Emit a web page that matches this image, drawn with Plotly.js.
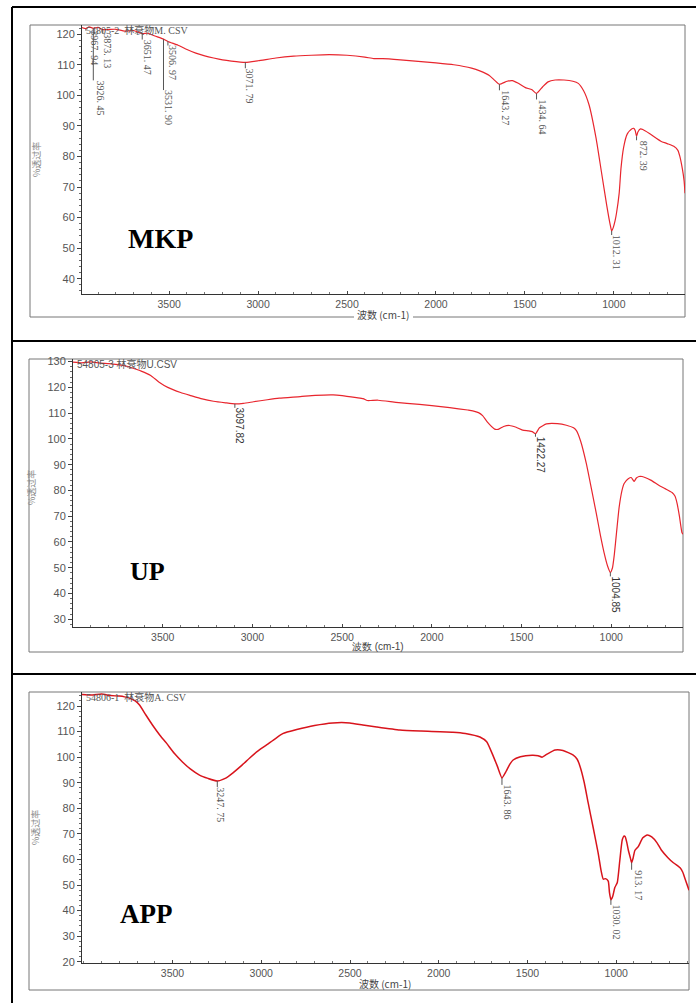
<!DOCTYPE html>
<html>
<head>
<meta charset="utf-8">
<script src="https://cdn.plot.ly/plotly-3.0.1.min.js"></script>
<style>
  html, body { margin: 0; padding: 0; background: #fff; }
  #chart { width: 696px; height: 1003px; }
</style>
</head>
<body>
<div id="chart"></div>
<script>
// ---- FTIR spectra: wavenumber (cm-1) and % transmittance ----
const mkpWave = [4000, 3967.94, 3950, 3926.45, 3900, 3873.13, 3800, 3750, 3700, 3651.47, 3620, 3580, 3531.90, 3506.97, 3450, 3400, 3350, 3300, 3250, 3200, 3150, 3071.79, 3000, 2900, 2800, 2700, 2600, 2500, 2400, 2350, 2300, 2200, 2100, 2000, 1900, 1800, 1750, 1700, 1670, 1643.27, 1600, 1570, 1540, 1500, 1460, 1434.64, 1400, 1370, 1330, 1280, 1230, 1200, 1170, 1140, 1100, 1070, 1040, 1020, 1012.31, 1003, 993, 985, 970, 960, 945, 925, 900, 888, 880, 872.39, 865, 850, 837, 800, 736, 700, 663, 640, 629, 615, 605, 600];
const mkpT = [122.3, 121.8, 122.4, 121.9, 122.2, 121.5, 121.6, 121.0, 121.2, 120.2, 120.3, 119.4, 118.4, 117.6, 116.4, 115.0, 113.8, 112.9, 112.2, 111.6, 111.2, 110.8, 111.3, 112.2, 112.8, 113.1, 113.3, 113.1, 112.5, 112.0, 112.0, 111.6, 111.1, 110.6, 110.0, 108.9, 107.9, 106.5, 104.9, 103.6, 104.6, 104.8, 104.0, 102.6, 101.8, 100.6, 102.8, 104.4, 105.0, 105.0, 104.6, 103.9, 101.5, 97.0, 86.0, 75.0, 64.0, 57.5, 55.6, 56.8, 59.0, 61.5, 68.0, 76.0, 83.0, 87.3, 89.0, 89.2, 88.5, 86.6, 88.0, 89.0, 88.8, 87.5, 85.0, 84.2, 83.3, 82.0, 80.0, 76.0, 72.0, 68.0];

const upWave = [4000, 3950, 3900, 3850, 3800, 3750, 3700, 3678, 3620, 3567, 3520, 3472, 3400, 3344, 3280, 3217, 3150, 3097.82, 3050, 2994, 2917, 2850, 2733, 2650, 2550, 2500, 2420, 2383, 2360, 2340, 2300, 2200, 2139, 2000, 1900, 1800, 1772, 1740, 1717, 1690, 1650, 1630, 1600, 1567, 1530, 1494, 1460, 1440, 1422.27, 1400, 1361, 1300, 1250, 1210, 1194, 1170, 1139, 1110, 1083, 1060, 1039, 1020, 1004.85, 993, 983, 970, 956, 940, 928, 905, 889, 880, 872, 860, 845, 828, 780, 733, 700, 661, 645, 633, 620, 606, 600];
const upT = [129.8, 129.5, 129.9, 129.4, 129.2, 128.8, 128.2, 127.7, 126.3, 124.6, 122.0, 120.0, 118.0, 116.8, 115.5, 114.6, 114.0, 113.6, 113.8, 114.4, 115.2, 115.8, 116.4, 116.9, 117.1, 116.8, 116.0, 115.6, 114.9, 114.9, 115.0, 114.2, 113.8, 112.9, 112.1, 111.2, 110.9, 110.2, 109.0, 106.5, 103.8, 103.7, 104.8, 105.2, 104.5, 103.4, 103.1, 102.8, 102.0, 104.3, 105.8, 105.9, 105.3, 104.3, 103.2, 99.0, 90.5, 80.5, 71.0, 62.5, 55.6, 50.6, 48.2, 50.0, 55.0, 64.0, 73.4, 80.0, 82.7, 84.5, 85.0, 84.2, 83.5, 84.8, 85.4, 85.4, 84.0, 81.9, 80.7, 79.2, 77.8, 75.0, 70.0, 63.7, 63.0];

const appWave = [4010, 3950, 3900, 3850, 3800, 3770, 3743, 3710, 3686, 3650, 3613, 3570, 3534, 3490, 3444, 3400, 3348, 3300, 3247.75, 3200, 3161, 3110, 3065, 3020, 2970, 2920, 2879, 2800, 2700, 2597, 2501, 2428, 2350, 2219, 2100, 1920, 1850, 1768, 1730, 1700, 1670, 1643.86, 1620, 1600, 1581, 1540, 1474, 1440, 1418, 1390, 1344, 1300, 1242, 1220, 1203, 1180, 1158, 1130, 1102, 1085, 1073, 1060, 1045, 1038, 1030.02, 1020, 1008, 994, 980, 966, 955, 949, 940, 932, 920, 913.17, 905, 895, 876, 850, 825, 800, 770, 746, 710, 678, 650, 639, 625, 610, 590];
const appT = [124.5, 124.3, 124.7, 124.1, 123.9, 123.6, 123.1, 122.0, 120.4, 116.5, 112.6, 108.5, 105.5, 101.5, 98.1, 95.4, 93.0, 91.7, 90.7, 91.8, 93.8, 96.8, 99.7, 102.4, 104.8, 107.3, 109.2, 110.8, 112.4, 113.4, 113.4, 112.6, 111.8, 110.6, 110.2, 109.8, 109.3, 107.9, 106.0, 101.6, 96.5, 91.9, 94.5, 97.2, 98.9, 100.2, 100.8, 100.6, 100.0, 101.2, 102.8, 102.6, 100.8, 99.2, 96.2, 90.0, 82.1, 72.5, 62.6, 55.5, 52.3, 52.5, 51.5, 47.0, 44.2, 45.5, 49.0, 51.0, 59.5, 67.7, 69.2, 68.8, 66.5, 63.7, 60.5, 58.7, 60.5, 63.5, 65.0, 68.5, 69.6, 68.8, 66.5, 63.7, 60.8, 58.7, 57.3, 56.7, 55.0, 52.0, 48.0];

// Peak positions marked on each spectrum (cm-1)
const mkpPeaks = [3967.94, 3926.45, 3873.13, 3651.47, 3531.90, 3506.97, 3071.79, 1643.27, 1434.64, 1012.31, 872.39];
const upPeaks = [3097.82, 1422.27, 1004.85];
const appPeaks = [3247.75, 1643.86, 1030.02, 913.17];

// Axis ticks
const xTicks = [3500, 3000, 2500, 2000, 1500, 1000];
const yTicksMKP = [40, 50, 60, 70, 80, 90, 100, 110, 120];
const yTicksUP = [30, 40, 50, 60, 70, 80, 90, 100, 110, 120, 130];
const yTicksAPP = [20, 30, 40, 50, 60, 70, 80, 90, 100, 110, 120];

// Text
const sampleNames = ["MKP", "UP", "APP"];
const fileNames = ["54805-2  林衰物M. CSV", "54805-3 林衰物U.CSV", "54806-1  林衰物A. CSV"];
const xTitle = ["波数 (cm-1)", "波数 (cm-1)", "波数 (cm-1)"];
const yTitle = "%透过率";

// ---- page geometry (pixels) ----
const W = 696, H = 1003;
const fx = x => x / W;
const fy = y => 1 - y / H;

const panels = [
  { plot: [82, 25, 685, 294], frame: [30, 25, 685, 317], frameGap: [354, 413], xr: [3990, 600], yr: [35, 123], yTicks: yTicksMKP,
    serif: true, lineColor: "#e8262e", lineWidth: 1.2,
    name: [160, 238, 28], file: [84, 30], xt: [383, 314], yt: [37, 160],
    lab: { dx: [9, 7, 5, 6, 5, 5, 4, 6, 5, 5, 7], gap: [2, 52, 4, 6, 51, 4, 6, 6, 6, 4, 4] } },
  { plot: [73, 359, 683, 627], frame: [29, 359, 683, 652], frameGap: null, xr: [4000, 600], yr: [27, 131], yTicks: yTicksUP,
    serif: false, lineColor: "#e8262e", lineWidth: 1.2,
    name: [147, 571, 26], file: [75, 364], xt: [378, 646], yt: [32, 488],
    lab: { dx: [5, 5, 5], gap: [4, 3, 4] } },
  { plot: [82, 692, 689, 963], frame: [29, 692, 689, 990], frameGap: null, xr: [4010, 590], yr: [19.5, 125.5], yTicks: yTicksAPP,
    serif: true, lineColor: "#d8141c", lineWidth: 1.5,
    name: [146, 914, 27], file: [84, 697], xt: [385, 983], yt: [35, 828],
    lab: { dx: [3, 6, 6, 7], gap: [6, 7, 5, 7] } }
];

const spectra = [[mkpWave, mkpT], [upWave, upT], [appWave, appT]];
const peaks = [mkpPeaks, upPeaks, appPeaks];

// linear interpolation on a descending wavenumber grid
function interp(xs, ys, v) {
  for (let i = 0; i < xs.length - 1; i++) {
    const a = xs[i], b = xs[i + 1];
    if ((v <= a && v >= b) || (v >= a && v <= b)) {
      const t = (v - a) / (b - a);
      return ys[i] + t * (ys[i + 1] - ys[i]);
    }
  }
  return ys[ys.length - 1];
}

const serifFont = "'Liberation Serif', 'Times New Roman', serif";
const sansFont = "'Liberation Sans', Arial, sans-serif";
const cjkFont = "'Noto Sans CJK SC', sans-serif";

const traces = [];
const annotations = [];
const shapes = [];
const layout = {
  width: W, height: H,
  margin: { l: 0, r: 0, t: 0, b: 0 },
  paper_bgcolor: "#ffffff",
  plot_bgcolor: "#ffffff",
  showlegend: false,
  font: { family: sansFont, size: 11, color: "#555" }
};

function paperLine(xa, ya, xb, yb, line) {
  shapes.push({ type: "line", xref: "paper", yref: "paper",
    x0: fx(xa), y0: fy(ya), x1: fx(xb), y1: fy(yb), line: line, layer: "below" });
}

panels.forEach((p, i) => {
  const n = i === 0 ? "" : String(i + 1);
  const xa = "xaxis" + n, ya = "yaxis" + n;
  const xid = "x" + n, yid = "y" + n;
  const [x0, y0, x1, y1] = p.plot;

  traces.push({
    type: "scatter", mode: "lines",
    x: spectra[i][0], y: spectra[i][1],
    xaxis: xid, yaxis: yid,
    line: { color: p.lineColor, width: p.lineWidth, shape: "spline", smoothing: 0.5 },
    hoverinfo: "x+y"
  });

  const tickFont = { family: sansFont, size: 11, color: "#555" };
  layout[xa] = {
    domain: [fx(x0), fx(x1)], anchor: yid,
    range: p.xr, autorange: false,
    showgrid: false, zeroline: false,
    showline: true, linecolor: "#333", linewidth: 1,
    ticks: "inside", ticklen: 3, tickcolor: "#444", tickwidth: 1,
    tickmode: "array", tickvals: xTicks,
    tickfont: { family: sansFont, size: 10.5, color: "#555" },
    minor: { dtick: 100, ticks: "inside", ticklen: 2, tickcolor: "#777" }
  };
  layout[ya] = {
    domain: [fy(y1), fy(y0)], anchor: xid,
    range: p.yr, autorange: false,
    showgrid: false, zeroline: false,
    showline: true, linecolor: "#333", linewidth: 1,
    ticks: "outside", ticklen: 4, tickcolor: "#444", tickwidth: 1,
    tickmode: "array", tickvals: p.yTicks,
    tickfont: tickFont,
    minor: { dtick: 2, ticks: "outside", ticklen: 2, tickcolor: "#666" }
  };

  // panel frame (bottom edge may leave room for the axis title)
  const [fx0, fy0, fx1, fy1] = p.frame;
  const frameLine = { color: "#777", width: 1 };
  paperLine(fx0, fy0, fx1, fy0, frameLine);
  paperLine(fx0, fy0, fx0, fy1, frameLine);
  paperLine(fx1, fy0, fx1, fy1, frameLine);
  if (p.frameGap) {
    paperLine(fx0, fy1, p.frameGap[0], fy1, frameLine);
    paperLine(p.frameGap[1], fy1, fx1, fy1, frameLine);
  } else {
    paperLine(fx0, fy1, fx1, fy1, frameLine);
  }

  // axis titles
  annotations.push({
    xref: "paper", yref: "paper", x: fx(p.xt[0]), y: fy(p.xt[1]),
    xanchor: "center", yanchor: "middle", showarrow: false,
    text: xTitle[i], borderpad: 0,
    font: { family: p.serif ? cjkFont : sansFont, size: 10, color: "#444" }
  });
  annotations.push({
    xref: "paper", yref: "paper", x: fx(p.yt[0]), y: fy(p.yt[1]),
    xanchor: "center", yanchor: "middle", showarrow: false, textangle: -90,
    text: yTitle,
    font: { family: cjkFont, size: 9, color: "#888" }
  });

  // data file name
  annotations.push({
    xref: "paper", yref: "paper", x: fx(p.file[0]), y: fy(p.file[1]),
    xanchor: "left", yanchor: "middle", showarrow: false,
    text: fileNames[i],
    font: { family: p.serif ? "'Liberation Serif', 'Noto Sans CJK SC', serif" : "'Liberation Sans', 'Noto Sans CJK SC', sans-serif", size: 10, color: "#555" }
  });

  // sample name
  annotations.push({
    xref: "paper", yref: "paper", x: fx(p.name[0]), y: fy(p.name[1]),
    xanchor: "center", yanchor: "middle", showarrow: false,
    text: "<b>" + sampleNames[i] + "</b>",
    font: { family: serifFont, size: p.name[2], color: "#000" }
  });

  // peak markers: short stem below the curve and a rotated value label
  peaks[i].forEach((v, k) => {
    const t = interp(spectra[i][0], spectra[i][1], v);
    const gap = p.lab.gap[k];
    shapes.push({
      type: "line", xref: xid, yref: yid,
      x0: v, x1: v, ysizemode: "pixel", yanchor: t, y0: 0, y1: -gap,
      line: { color: "#555", width: 1 }
    });
    const txt = p.serif ? v.toFixed(2).replace(".", ". ") : v.toFixed(2);
    annotations.push({
      xref: xid, yref: yid, x: v, y: t,
      xanchor: "center", yanchor: "top",
      xshift: p.lab.dx[k], yshift: -gap + 1,
      showarrow: false, textangle: 90, borderpad: 0,
      text: txt,
      font: { family: p.serif ? serifFont : sansFont, size: 10, color: p.serif ? "#555" : "#333" }
    });
  });
});

// table rules around the three panels
const black = { color: "#000", width: 2 };
shapes.push({ type: "line", xref: "paper", yref: "paper", x0: fx(12), x1: fx(12), y0: fy(7), y1: 0, line: black });
[7, 341, 674].forEach(y => {
  shapes.push({ type: "line", xref: "paper", yref: "paper", x0: fx(12), x1: 1, y0: fy(y), y1: fy(y), line: black });
});

layout.shapes = shapes;
layout.annotations = annotations;

Plotly.newPlot("chart", traces, layout, { displayModeBar: false, staticPlot: true });
</script>
</body>
</html>
